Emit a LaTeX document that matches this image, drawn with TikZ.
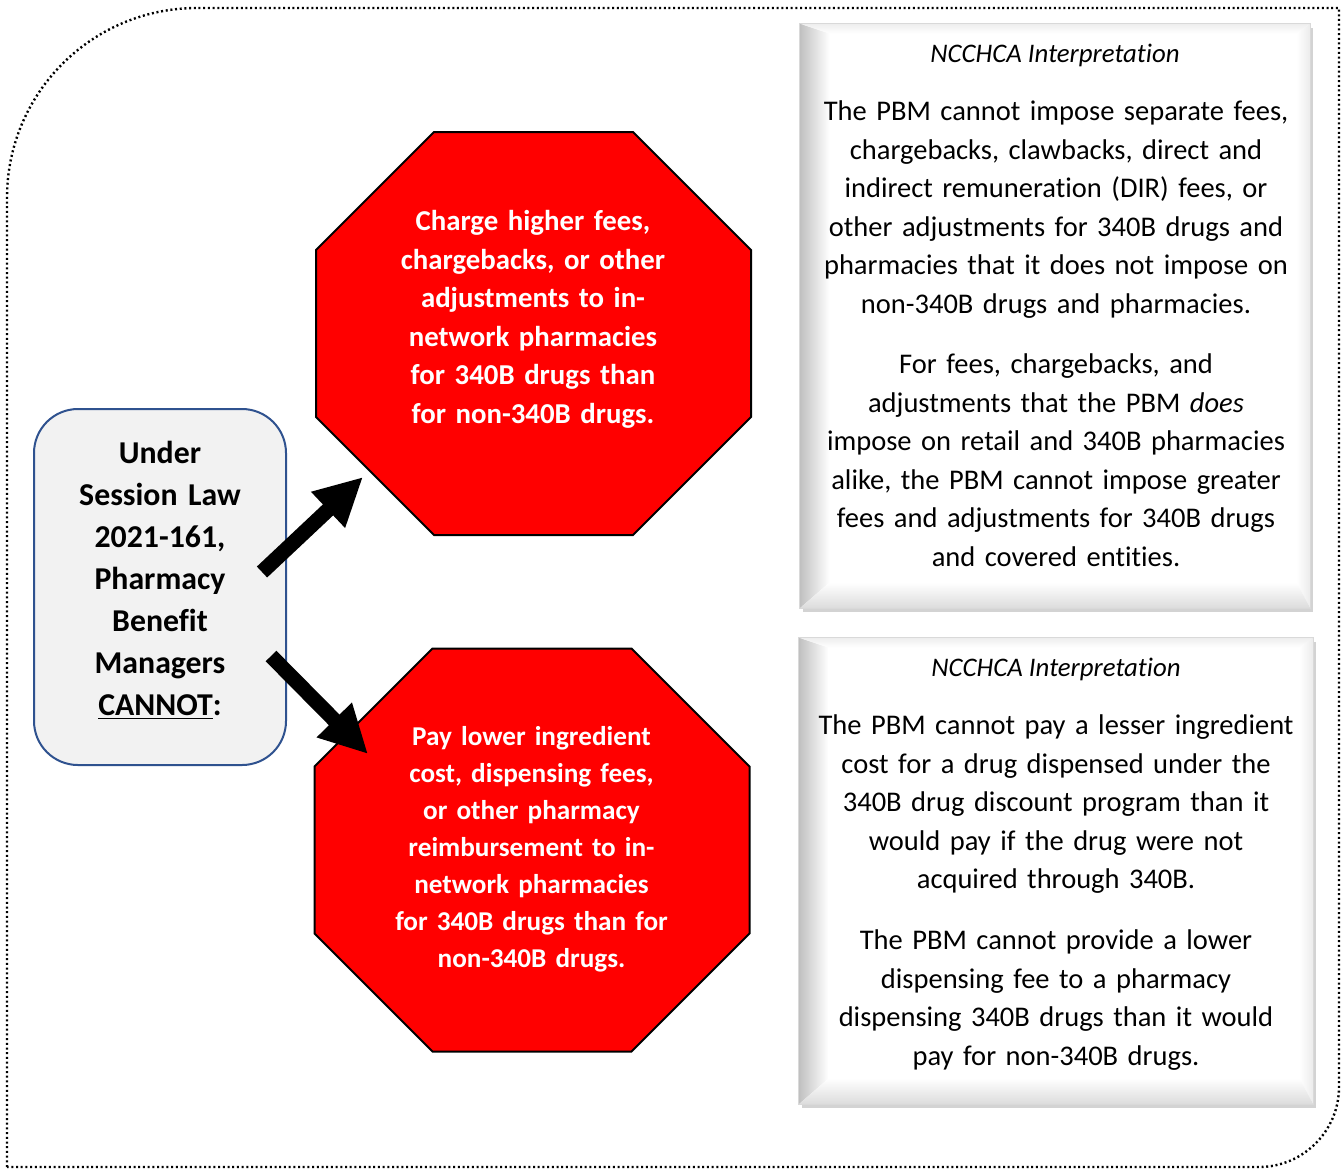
\documentclass[tikz,border=0pt]{standalone}
\usepackage{fontspec}
\setmainfont{Carlito}[Ligatures={TeX,NoCommon}]
\usetikzlibrary{arrows.meta,shadows}
\definecolor{lawblue}{HTML}{2F528F}
\definecolor{lawgray}{HTML}{F2F2F2}
\definecolor{stopred}{HTML}{FF0000}
\begin{document}
\begin{tikzpicture}[x=0.5pt,y=-0.5pt,
    frame/.style={line width=1.2pt,dash pattern=on 1pt off 1.35pt},
    lawbox/.style={draw=lawblue,line width=1pt,fill=lawgray,rounded corners=22pt,
      minimum width=126pt,minimum height=178pt},
    lawtext/.style={font=\bfseries\fontsize{15.9}{21}\selectfont,text width=120pt,
      align=center,anchor=base,inner sep=0pt},
    stopspot/.style={minimum width=217.5pt,minimum height=201.5pt,inner sep=0pt,outer sep=0pt},
    stopsign/.style={draw=black,line width=1pt,fill=stopred,line join=miter},
    stoptext/.style={text=white,text width=150pt,align=center,anchor=base,inner sep=0pt},
    push/.style={line width=7.5pt,-{Triangle[length=24pt,width=23pt]}},
    bevelbox/.style={fill=white,draw=black!15,line width=0.5pt,
      drop shadow={shadow xshift=1.5pt,shadow yshift=-2pt,opacity=0.35}},
    readtitle/.style={font=\itshape\fontsize{13.4}{16}\selectfont,anchor=base,inner sep=0pt},
    readtext/.style={font=\fontsize{14.25}{19.25}\selectfont,text width=250pt,
      align=center,anchor=base,inner sep=0pt}]
  \useasboundingbox (0,0) rectangle (1342,1169);

  % dotted outline round everything
  \draw[frame] (7,1167) -- (7,198) .. controls (7,93) and (92,8) .. (197,8)
    -- (1339,8) -- (1339,1087) .. controls (1339,1131) and (1303,1167) .. (1259,1167) -- cycle;

  % what the law says
  \node[lawbox] (law) at (160,587) {};
  \node[lawtext] (lawTxt) at (160,463) {Under\\ Session Law\\ 2021-161,\\ Pharmacy\\
    Benefit\\ Managers\\ \underline{CANNOT}:};

  % the two stop signs
  \node[stopspot] (stopCharge) at (533.5,333.5) {};
  \node[stopspot] (stopPay) at (532,850) {};
  \foreach \s in {stopCharge,stopPay}
    \draw[stopsign] ([shift={(118,0)}]\s.north west) -- ([shift={(-118,0)}]\s.north east)
      -- ([shift={(0,118)}]\s.north east) -- ([shift={(0,-118)}]\s.south east)
      -- ([shift={(-118,0)}]\s.south east) -- ([shift={(118,0)}]\s.south west)
      -- ([shift={(0,-118)}]\s.south west) -- ([shift={(0,118)}]\s.north west) -- cycle;

  \node[stoptext,font=\bfseries\fontsize{14.4}{19.3}\selectfont] (chargeTxt) at (533,230.5)
    {Charge higher fees,\\ chargebacks, or other\\ adjustments to in-\\ network pharmacies\\
     for 340B drugs than\\ for non-340B drugs.};
  \node[stoptext,font=\bfseries\fontsize{13.6}{18.5}\selectfont] (payTxt) at (531.5,745.5)
    {Pay lower ingredient\\ cost, dispensing fees,\\ or other pharmacy\\ reimbursement to in-\\
     network pharmacies\\ for 340B drugs than for\\ non-340B drugs.};

  \coordinate (tailA) at (262,572);
  \coordinate (tipA) at (363,477);
  \coordinate (tailB) at (271,656);
  \coordinate (tipB) at (368,754);
  \draw[push] (tailA) -- (tipA);
  \draw[push] (tailB) -- (tipB);

  % interpretation boxes
  \node[bevelbox,minimum width=255pt,minimum height=292pt] (readA) at (1055,316) {};
  \node[bevelbox,minimum width=257pt,minimum height=233pt] (readB) at (1056,871) {};
  \foreach \b in {readA,readB} {
    \shade[left color=black!25,right color=white] (\b.north west) -- ([shift={(30,10)}]\b.north west)
      -- ([shift={(30,-26)}]\b.south west) -- (\b.south west) -- cycle;
    \shade[top color=black!7,bottom color=white] (\b.north west) -- (\b.north east)
      -- ([shift={(-14,10)}]\b.north east) -- ([shift={(30,10)}]\b.north west) -- cycle;
    \shade[left color=white,right color=black!8] (\b.north east) -- (\b.south east)
      -- ([shift={(-14,-26)}]\b.south east) -- ([shift={(-14,10)}]\b.north east) -- cycle;
    \shade[top color=white,bottom color=black!14] (\b.south west) -- ([shift={(30,-26)}]\b.south west)
      -- ([shift={(-14,-26)}]\b.south east) -- (\b.south east) -- cycle;
    \draw[black!15,line width=0.5pt] (\b.north west) rectangle (\b.south east);
  }

  \node[readtitle] (titleA) at (1055,62) {NCCHCA Interpretation};
  \node[readtext] (feesA) at (1056,120.5) {The PBM cannot impose separate fees,\\
    chargebacks, clawbacks, direct and\\ indirect remuneration (DIR) fees, or\\
    other adjustments for 340B drugs and\\ pharmacies that it does not impose on\\
    non-340B drugs and pharmacies.};
  \node[readtext] (greaterA) at (1056,373.5) {For fees, chargebacks, and\\
    adjustments that the PBM \textit{does}\\ impose on retail and 340B pharmacies\\
    alike, the PBM cannot impose greater\\ fees and adjustments for 340B drugs\\
    and covered entities.};

  \node[readtitle] (titleB) at (1056,676) {NCCHCA Interpretation};
  \node[readtext] (costB) at (1056,734.5) {The PBM cannot pay a lesser ingredient\\
    cost for a drug dispensed under the\\ 340B drug discount program than it\\
    would pay if the drug were not\\ acquired through 340B.};
  \node[readtext] (feeB) at (1056,949.5) {The PBM cannot provide a lower\\
    dispensing fee to a pharmacy\\ dispensing 340B drugs than it would\\
    pay for non-340B drugs.};
\end{tikzpicture}
\end{document}
